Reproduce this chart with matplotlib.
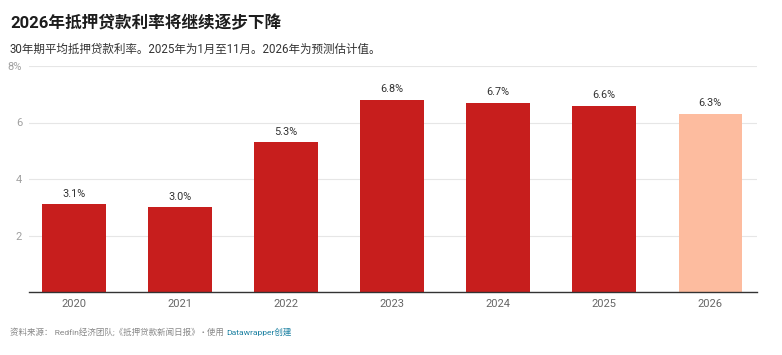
import matplotlib
matplotlib.use("Agg")
import matplotlib.pyplot as plt

plt.rcParams['font.family'] = ['Roboto', 'Noto Sans CJK SC', 'DejaVu Sans']

years = ["2020", "2021", "2022", "2023", "2024", "2025", "2026"]
rates = [3.1, 3.0, 5.3, 6.8, 6.7, 6.6, 6.3]
labels = ["3.1%", "3.0%", "5.3%", "6.8%", "6.7%", "6.6%", "6.3%"]
colors = ["#c71e1d"] * 6 + ["#fdbc9f"]
yticks = [0, 2, 4, 6, 8]
yticklabels = ["", "2", "4", "6", "8%"]

fig = plt.figure(figsize=(7.82, 3.55), dpi=100)
ax = fig.add_axes([29/782, 1 - 292/355, (757 - 29)/782, (292 - 66)/355])

x = list(range(len(years)))
ax.bar(x, rates, width=0.6, color=colors, zorder=3)
for xi, r, lab in zip(x, rates, labels):
    ax.text(xi, r + 0.2, lab, ha="center", va="bottom", fontsize=7.8, color="#333333")

ax.set_xlim(-0.424, 6.44)
ax.set_ylim(0, 8)
ax.set_yticks(yticks)
ax.set_yticklabels(yticklabels)
ax.set_xticks(x)
ax.set_xticklabels(years)
ax.grid(axis="y", color="#e6e6e6", linewidth=0.8, zorder=0)
for s in ["top", "right", "left"]:
    ax.spines[s].set_visible(False)
ax.spines["bottom"].set_color("#333333")
ax.spines["bottom"].set_linewidth(1)
ax.spines["bottom"].set_zorder(4)
ax.tick_params(axis="y", length=0, labelsize=8, labelcolor="#a0a0a0", pad=5)
ax.tick_params(axis="x", length=0, labelsize=8, labelcolor="#666666", pad=5)

fig.text(10/782, 1 - 23/355, "2026年抵押贷款利率将继续逐步下降", fontsize=12, fontweight="bold",
         color="#1d1d1d", va="center", ha="left")
fig.text(10/782, 1 - 49/355, "30年期平均抵押贷款利率。2025年为1月至11月。2026年为预测估计值。",
         fontsize=8.3, color="#333333", va="center", ha="left")

t1 = fig.text(10/782, 1 - 332/355, "资料来源： Redfin经济团队;《抵押贷款新闻日报》 • 使用 ",
              fontsize=6.1, color="#888888", va="center", ha="left")
fig.canvas.draw()
bb = t1.get_window_extent()
fig.text(bb.x1 / (7.82 * 100), 1 - 332/355, "Datawrapper创建", fontsize=6.1, color="#1d81a2",
         va="center", ha="left")

fig.savefig("out.png", dpi=100)
